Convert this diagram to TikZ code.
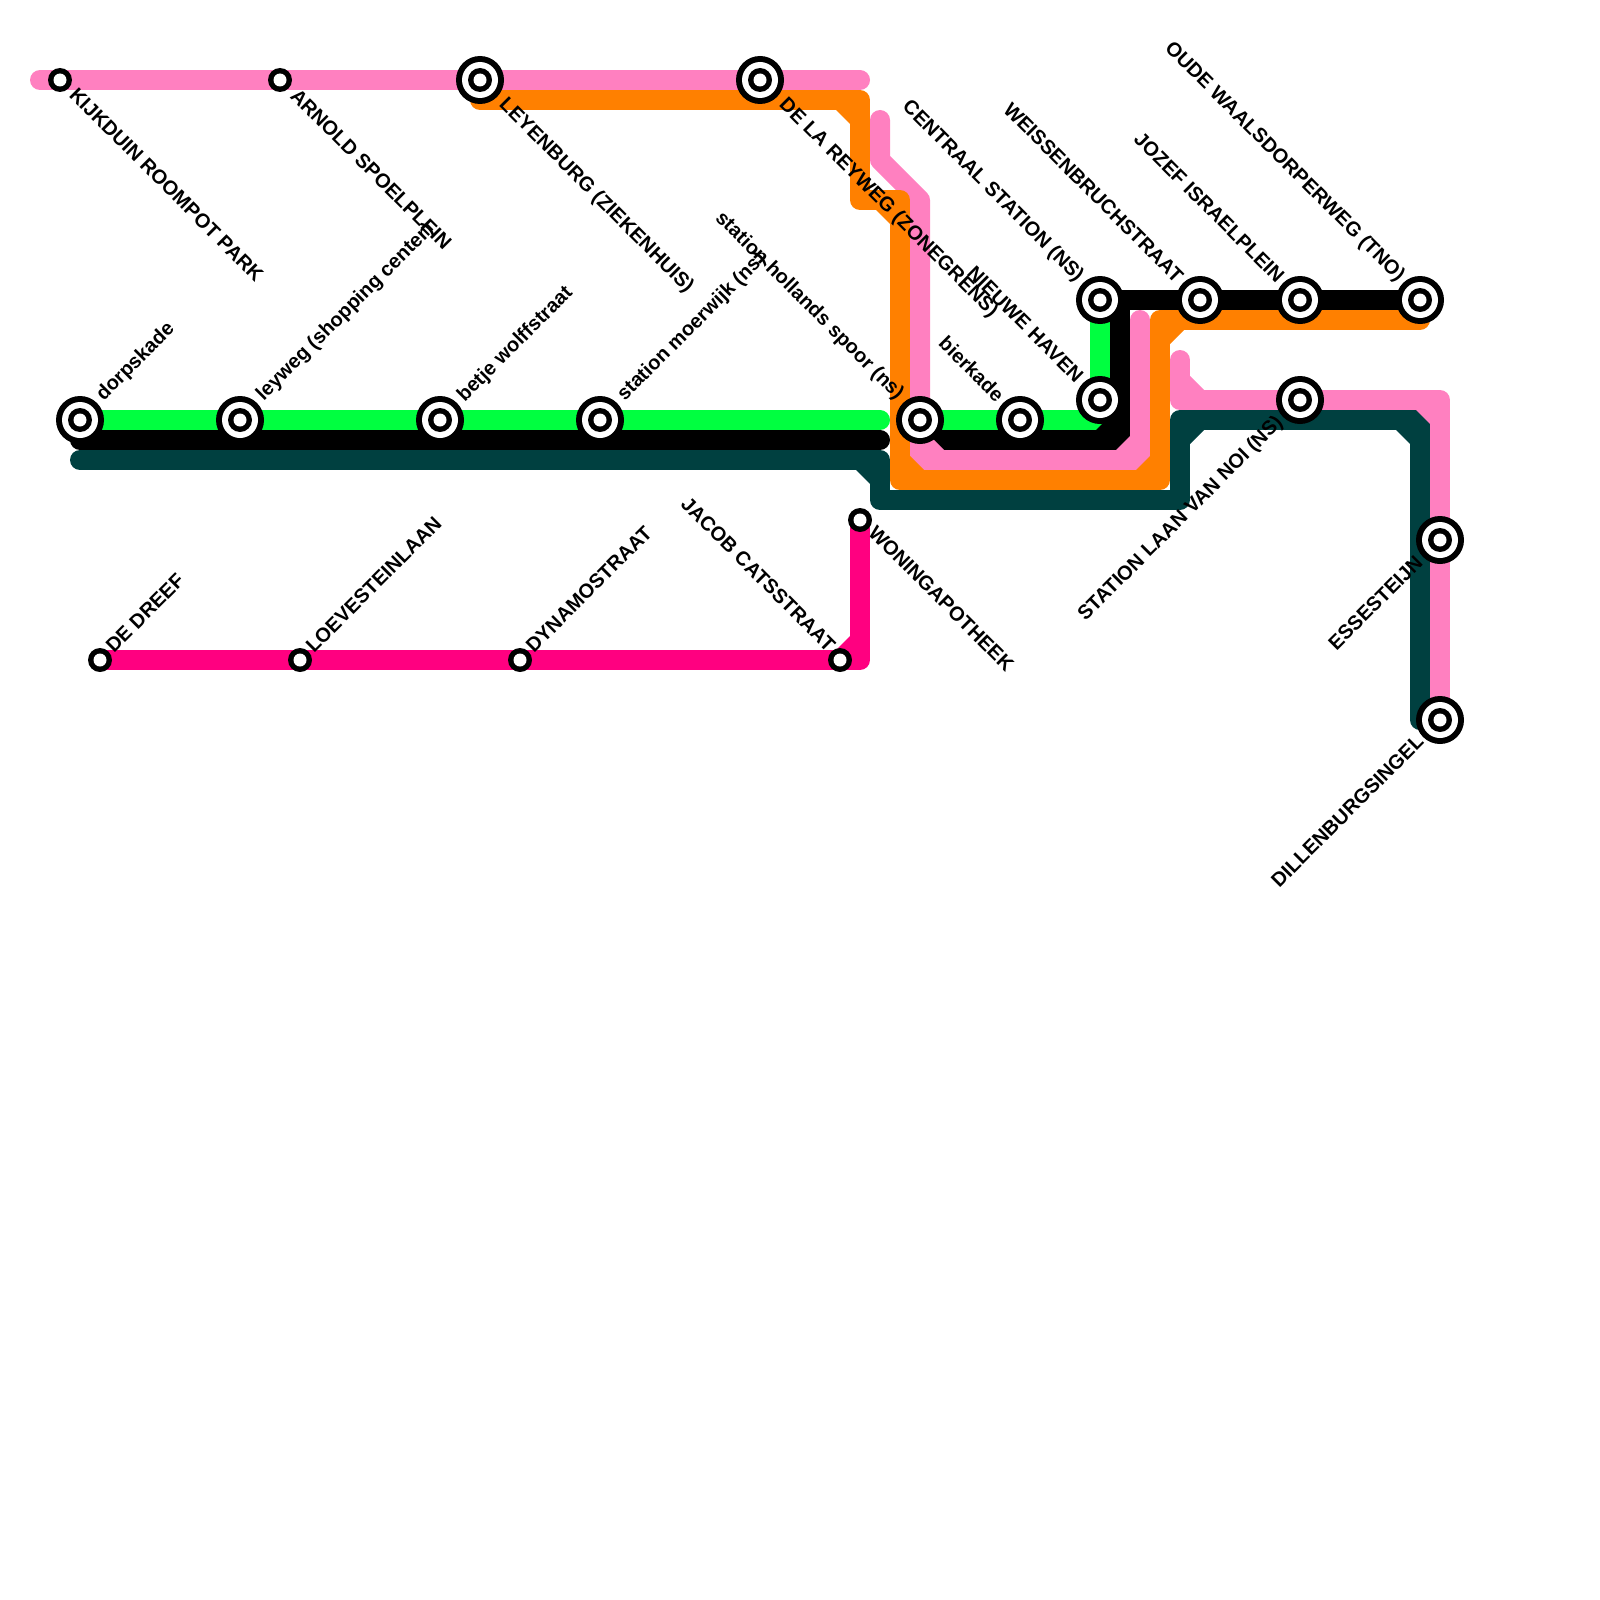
\documentclass[tikz,border=0pt]{standalone}
\usepackage{fontspec}
\setmainfont{Liberation Sans}
\definecolor{cpink}{HTML}{FF80C0}
\definecolor{corange}{HTML}{FF8000}
\definecolor{cgreen}{HTML}{00FF40}
\definecolor{cdark}{HTML}{004040}
\definecolor{cmag}{HTML}{FF0080}
\tikzset{
  metro/.style={line width=20pt,line cap=round,line join=round},
  ringo/.style={circle,inner sep=0pt,minimum size=48pt,fill=black},
  ringw/.style={circle,inner sep=0pt,minimum size=36pt,fill=white},
  ringb/.style={circle,inner sep=0pt,minimum size=24pt,fill=black},
  ringc/.style={circle,inner sep=0pt,minimum size=13pt,fill=white},
  upper/.style={font=\fontsize{20}{20}\selectfont\bfseries,text=black,inner sep=0pt},
  lower/.style={font=\fontsize{20}{20}\selectfont\bfseries,text=black,inner sep=0pt},
  lbLR/.style={anchor=west,rotate=-45},
  lbUR/.style={anchor=west,rotate=45},
  lbUL/.style={anchor=east,rotate=-45},
  lbLL/.style={anchor=east,rotate=45},
}
% inner-corner chamfer: colour, corner, x-leg, y-leg
\newcommand{\chamf}[4]{\fill[#1] (#2) -- ++(#3,0) -- ++(-#3,#4) -- cycle;}
\newcommand{\bigst}[2]{\node[ringo] (#1) at (#2) {};\node[ringw] at (#1) {};\node[ringb] at (#1) {};\node[ringc] at (#1) {};}
\newcommand{\smst}[2]{\node[ringb] (#1) at (#2) {};\node[ringc] at (#1) {};}
\begin{document}
\begin{tikzpicture}[x=1pt,y=-1pt]
\useasboundingbox (0,0) rectangle (1600,1600);
% stations' positions
\coordinate (kijk) at (60,80);
\coordinate (arnold) at (280,80);
\coordinate (leyen) at (480,80);
\coordinate (reyweg) at (760,80);
\coordinate (dorp) at (80,420);
\coordinate (ley) at (240,420);
\coordinate (betje) at (440,420);
\coordinate (moer) at (600,420);
\coordinate (holl) at (920,420);
\coordinate (bier) at (1020,420);
\coordinate (nieuwe) at (1100,400);
\coordinate (centr) at (1100,300);
\coordinate (weiss) at (1200,300);
\coordinate (jozef) at (1300,300);
\coordinate (oude) at (1420,300);
\coordinate (laan) at (1300,400);
\coordinate (esse) at (1440,540);
\coordinate (dill) at (1440,720);
\coordinate (dreef) at (100,660);
\coordinate (loev) at (300,660);
\coordinate (dyna) at (520,660);
\coordinate (jacob) at (840,660);
\coordinate (won) at (860,520);
% dark
\draw[metro,cdark] (80,460) -- (880,460) -- (880,500) -- (1180,500) -- (1180,420) -- (1420,420) -- (1420,720);
\chamf{cdark}{870,470}{-14}{14}
\chamf{cdark}{1190,430}{14}{14}
\chamf{cdark}{1410,430}{-14}{14}
% green
\draw[metro,cgreen] (dorp) -- (880,420);
\draw[metro,cgreen] (holl) -- (1100,420) -- (nieuwe) -- (centr);
% black
\draw[metro,black] (80,440) -- (880,440);
\draw[metro,black] (holl) -- (920,440) -- (1120,440) -- (1120,300) -- (centr);
\draw[metro,black] (1120,300) -- (weiss) -- (jozef) -- (oude);
\chamf{black}{1110,430}{-14}{-14}
% magenta
\draw[metro,cmag] (dreef) -- (860,660) -- (won);
\chamf{cmag}{850,650}{-14}{-14}
% pink
\draw[metro,cpink] (40,80) -- (860,80);
\draw[metro,cpink] (880,120) -- (880,160) -- (920,200) -- (920,460) -- (1140,460) -- (1140,320);
\draw[metro,cpink] (1180,360) -- (1180,400) -- (1440,400) -- (1440,720);
\chamf{cpink}{930,450}{14}{-14}
\chamf{cpink}{1130,450}{-14}{-14}
\chamf{cpink}{1190,390}{14}{-14}
\chamf{cpink}{1430,410}{-14}{14}
% orange
\draw[metro,corange] (480,100) -- (860,100) -- (860,200) -- (900,200) -- (900,480) -- (1160,480) -- (1160,320) -- (1420,320);
\chamf{corange}{850,110}{-14}{14}
\chamf{corange}{890,210}{-14}{14}
\chamf{corange}{910,470}{14}{-14}
\chamf{corange}{1150,470}{-14}{-14}
\chamf{corange}{1170,330}{14}{14}
% stations
\smst{s1}{kijk}\smst{s2}{arnold}\bigst{s3}{leyen}\bigst{s4}{reyweg}
\bigst{s5}{dorp}\bigst{s6}{ley}\bigst{s7}{betje}\bigst{s8}{moer}
\bigst{s9}{holl}\bigst{s10}{bier}\bigst{s11}{nieuwe}\bigst{s12}{centr}
\bigst{s13}{weiss}\bigst{s14}{jozef}\bigst{s15}{oude}\bigst{s16}{laan}
\bigst{s17}{esse}\bigst{s18}{dill}
\smst{s19}{dreef}\smst{s20}{loev}\smst{s21}{dyna}\smst{s22}{jacob}\smst{s23}{won}
% labels
\node[upper,lbLR] (l1) at (73,91) {KIJKDUIN ROOMPOT PARK};
\node[upper,lbLR] (l2) at (294,92) {ARNOLD SPOELPLEIN};
\node[upper,lbLR] (l3) at (502,102) {LEYENBURG (ZIEKENHUIS)};
\node[upper,lbLR] (l4) at (782,102) {DE LA REYWEG (ZONEGRENS)};
\node[lower,lbUR] (l5) at (100,398) {dorpskade};
\node[lower,lbUR] (l6) at (260,398) {leyweg (shopping center)};
\node[lower,lbUR] (l7) at (461,399) {betje wolffstraat};
\node[lower,lbUR] (l8) at (621,398) {station moerwijk (ns)};
\node[lower,lbUL] (l9) at (900,397) {station hollands spoor (ns)};
\node[lower,lbUL] (l10) at (1001,398) {bierkade};
\node[upper,lbUL] (l11) at (1080,379) {NIEUWE HAVEN};
\node[upper,lbUL] (l12) at (1080,279) {CENTRAAL STATION (NS)};
\node[upper,lbUL] (l13) at (1180,279) {WEISSENBRUCHSTRAAT};
\node[upper,lbUL] (l14) at (1281,279) {JOZEF ISRAELPLEIN};
\node[upper,lbUL] (l15) at (1401,279) {OUDE WAALSDORPERWEG (TNO)};
\node[upper,lbLL] (l16) at (1280,420) {STATION LAAN VAN NOI (NS)};
\node[upper,lbLL] (l17) at (1419,559) {ESSESTEIJN};
\node[upper,lbLL] (l18) at (1420,738) {DILLENBURGSINGEL};
\node[upper,lbUL] (l19) at (832,648) {JACOB CATSSTRAAT};
\node[upper,lbLR] (l20) at (872,529) {WONINGAPOTHEEK};
\node[upper,lbUR] (l21) at (109,649) {DE DREEF};
\node[upper,lbUR] (l22) at (309,649) {LOEVESTEINLAAN};
\node[upper,lbUR] (l23) at (529,649) {DYNAMOSTRAAT};
\end{tikzpicture}
\end{document}
